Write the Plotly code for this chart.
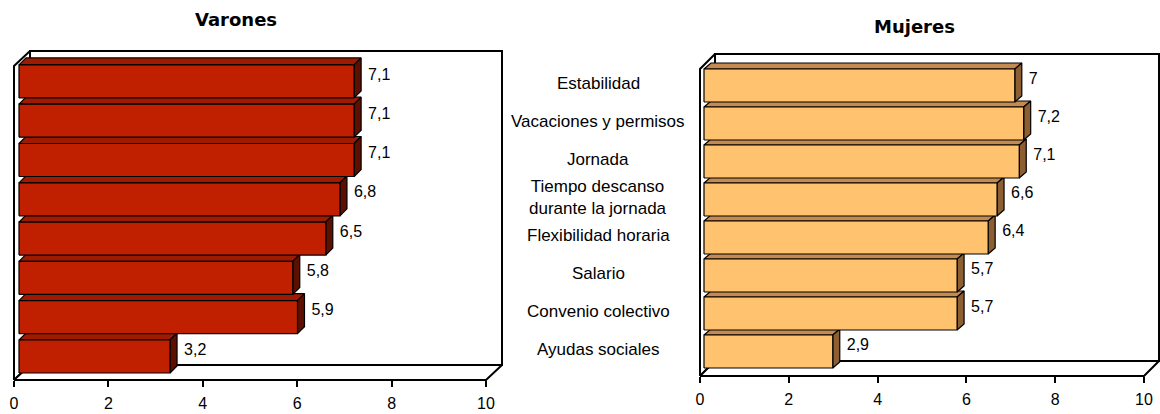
import plotly.graph_objects as go

categorias = ["Estabilidad", "Vacaciones y permisos", "Jornada",
              "Tiempo descanso<br>durante la jornada", "Flexibilidad horaria",
              "Salario", "Convenio colectivo", "Ayudas sociales"]
varones = [7.1, 7.1, 7.1, 6.8, 6.5, 5.8, 5.9, 3.2]
mujeres = [7.0, 7.2, 7.1, 6.6, 6.4, 5.7, 5.7, 2.9]
etiquetas_v = ["7,1", "7,1", "7,1", "6,8", "6,5", "5,8", "5,9", "3,2"]
etiquetas_m = ["7", "7,2", "7,1", "6,6", "6,4", "5,7", "5,7", "2,9"]
ticks_x = [0, 2, 4, 6, 8, 10]

W, H = 1160, 414
FONT = "Liberation Sans, Arial"

# panel geometry (pixels)
panels = [
    dict(x0=14, pxu=47.2, ybase=356.5, pitch=39.3, floor=380, top=51, depth=(16, -15),
         xs=5, barh=33, bd=(7, -7), dom=(4, 506),
         front="#C02000", topc="#9E1A00", side="#5E1000", vals=varones, labs=etiquetas_v),
    dict(x0=700, pxu=44.4, ybase=351.5, pitch=38.0, floor=376, top=54, depth=(15, -15),
         xs=4, barh=33, bd=(7, -6), dom=(690, 1160),
         front="#FFC26E", topc="#C48A50", side="#8C5F33", vals=mujeres, labs=etiquetas_m),
]

fig = go.Figure()
ydom_px = (400, 38)

for i, p in enumerate(panels):
    xa = "x" if i == 0 else "x2"
    ya = "y" if i == 0 else "y2"
    pxu, pitch = p["pxu"], p["pitch"]
    xr = [(p["dom"][0] - p["x0"]) / pxu, (p["dom"][1] - p["x0"]) / pxu]
    yr = [(p["ybase"] - ydom_px[0]) / pitch, (p["ybase"] - ydom_px[1]) / pitch]
    yfl = (p["ybase"] - p["floor"]) / pitch
    ytp = (p["ybase"] - p["top"]) / pitch
    ddx, ddy = p["depth"][0] / pxu, -p["depth"][1] / pitch
    xend = 10

    def poly(xs, ys, fill, lc, lw=1.2):
        fig.add_trace(go.Scatter(x=xs + [xs[0]], y=ys + [ys[0]], mode="lines", fill="toself",
                                 fillcolor=fill, line=dict(color=lc, width=lw),
                                 hoverinfo="skip", showlegend=False, xaxis=xa, yaxis=ya))

    yb = yfl + ddy
    # back wall
    poly([ddx, xend + ddx, xend + ddx, ddx], [yb, yb, ytp, ytp], "white", "#000000", 2)
    # left wall
    poly([0, ddx, ddx, 0], [yfl, yb, ytp, ytp - ddy], "white", "#000000", 2)
    # floor
    poly([0, xend, xend + ddx, ddx], [yfl, yfl, yb, yb], "white", "#000000", 2)

    n = len(p["vals"])
    bxs = p["xs"] / pxu
    hh = p["barh"] / pitch / 2
    bdx, bdy = p["bd"][0] / pxu, -p["bd"][1] / pitch
    for k in range(n - 1, -1, -1):
        v = p["vals"][k]
        yc = n - 1 - k
        x1, x2 = bxs, bxs + v
        y1, y2 = yc - hh, yc + hh
        poly([x1, x2, x2 + bdx, x1 + bdx], [y2, y2, y2 + bdy, y2 + bdy], p["topc"], "#000000")
        poly([x2, x2 + bdx, x2 + bdx, x2], [y1, y1 + bdy, y2 + bdy, y2], p["side"], "#000000")
        poly([x1, x2, x2, x1], [y1, y1, y2, y2], p["front"], "#000000")

    # value labels
    fig.add_trace(go.Scatter(
        x=[bxs + v + 14 / pxu for v in p["vals"]],
        y=[n - 1 - k + 0.15 for k in range(n)],
        mode="text", text=p["labs"], textposition="middle right",
        textfont=dict(family=FONT, size=16, color="#000000"),
        cliponaxis=False, hoverinfo="skip", showlegend=False, xaxis=xa, yaxis=ya))

    axx = dict(domain=[p["dom"][0] / W, p["dom"][1] / W], range=xr, tickvals=ticks_x,
               ticktext=[str(t) for t in ticks_x], ticks="outside", ticklen=6, tickwidth=1.5,
               tickcolor="#000000", showgrid=False, zeroline=False, showline=False,
               anchor="free", position=1 - p["floor"] / H, ticklabelstandoff=3,
               tickfont=dict(family=FONT, size=16, color="#000000"),
               fixedrange=True)
    axy = dict(domain=[1 - ydom_px[0] / H, 1 - ydom_px[1] / H], range=yr, visible=False,
               showgrid=False, zeroline=False, fixedrange=True)
    if i == 0:
        fig.update_layout(xaxis=axx, yaxis=dict(axy, anchor="x"))
    else:
        fig.update_layout(xaxis2=axx, yaxis2=dict(axy, anchor="x2"))

# category labels (between panels)
n = len(categorias)
for k, c in enumerate(categorias):
    fig.add_annotation(x=598 / W, xref="paper", y=n - 1 - k + 0.05, yref="y2", text=c,
                       showarrow=False, xanchor="center", yanchor="middle", align="center",
                       font=dict(family=FONT, size=17, color="#000000"))

fig.add_annotation(x=236 / W, xref="paper", y=1 - 20 / H, yref="paper", text="<b>Varones</b>",
                   showarrow=False, xanchor="center", yanchor="middle",
                   font=dict(family="DejaVu Sans", size=18, color="#000000"))
fig.add_annotation(x=914 / W, xref="paper", y=1 - 27 / H, yref="paper", text="<b>Mujeres</b>",
                   showarrow=False, xanchor="center", yanchor="middle",
                   font=dict(family="DejaVu Sans", size=18, color="#000000"))

fig.update_layout(width=W, height=H, margin=dict(l=0, r=0, t=0, b=0),
                  paper_bgcolor="white", plot_bgcolor="rgba(0,0,0,0)", showlegend=False)

fig.write_html("out.html", config={"displayModeBar": False},
               post_script="document.body.style.margin='0px';")
